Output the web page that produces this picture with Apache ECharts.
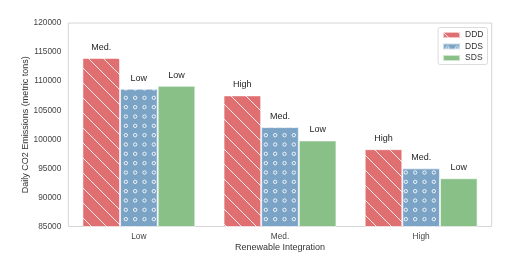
<!DOCTYPE html>
<html><head><meta charset="utf-8">
<script src="https://cdn.jsdelivr.net/npm/echarts@6/dist/echarts.min.js"></script>
<style>html,body{margin:0;padding:0;background:#fff}#c{width:521px;height:257px}</style>
</head><body><div id="c"></div>
<script>
const categories = ['Low', 'Med.', 'High'];
const seriesNames = ['DDD', 'DDS', 'SDS'];
const dddValues = [114000, 107550, 98300];
const ddsValues = [108700, 102100, 95000];
const sdsValues = [109200, 99800, 93300];
const dddLabels = ['Med.', 'High', 'High'];
const ddsLabels = ['Low', 'Med.', 'Med.'];
const sdsLabels = ['Low', 'Low', 'Low'];
const yTicks = [85000, 90000, 95000, 100000, 105000, 110000, 115000, 120000];

const RED = '#df6f71', BLUE = '#7ba3c6', GREEN = '#88c088';
const FONT = 'Liberation Sans, Arial, sans-serif';

function hatchLines(bg) {
  const s = 15, c = document.createElement('canvas');
  c.width = s; c.height = s;
  const g = c.getContext('2d');
  g.fillStyle = bg; g.fillRect(0, 0, s, s);
  g.strokeStyle = 'rgba(255,255,255,0.85)'; g.lineWidth = 1;
  for (const k of [-s, 0, s]) { g.beginPath(); g.moveTo(k, 0); g.lineTo(k + s, s); g.stroke(); }
  return { image: c, repeat: 'repeat' };
}
function hatchCircles(bg) {
  const s = 9.33, c = document.createElement('canvas');
  c.width = 28; c.height = 28;
  const g = c.getContext('2d');
  g.fillStyle = bg; g.fillRect(0, 0, 28, 28);
  g.strokeStyle = 'rgba(255,255,255,0.85)'; g.lineWidth = 1;
  for (let i = 0; i < 3; i++) for (let j = 0; j < 3; j++) {
    g.beginPath(); g.arc(4.5 + i * s, 4.5 + j * s, 1.7, 0, Math.PI * 2); g.stroke();
  }
  return { image: c, repeat: 'repeat' };
}

function mkSeries(name, vals, labels, color) {
  return {
    name, type: 'bar', barGap: 0, barCategoryGap: '20%',
    data: vals.map((v, i) => ({ value: v, label: { formatter: labels[i] } })),
    itemStyle: { color, borderColor: 'rgba(255,255,255,0.6)', borderWidth: 1 },
    label: { show: true, position: 'top', distance: 6, fontSize: 9, color: '#262626', fontFamily: FONT },
    emphasis: { disabled: true }
  };
}

const chart = echarts.init(document.getElementById('c'), null, { renderer: 'canvas' });
chart.setOption({
  animation: false,
  backgroundColor: '#fff',
  grid: { left: 68.3, right: 29.3, top: 23, bottom: 28, show: true, borderColor: '#d6d6d6', borderWidth: 1, containLabel: false },
  legend: {
    data: seriesNames, orient: 'vertical', right: 33.5, top: 27.5,
    itemWidth: 17, itemHeight: 6, itemGap: 2.5,
    borderColor: '#dcdcdc', borderWidth: 1, borderRadius: 2, padding: [3, 4, 2, 4],
    textStyle: { fontSize: 8.5, color: '#333', fontFamily: FONT, padding: [0, 0, 0, 0] },
    icon: 'rect', align: 'left'
  },
  xAxis: {
    type: 'category', data: categories,
    name: 'Renewable Integration', nameLocation: 'middle', nameGap: 16.5, nameMoveOverlap: false,
    nameTextStyle: { fontSize: 9, color: '#333', fontFamily: FONT },
    axisLine: { show: false }, axisTick: { show: false },
    axisLabel: { fontSize: 8.3, color: '#444', margin: 6, fontFamily: FONT },
    splitLine: { show: false }
  },
  yAxis: {
    type: 'value', min: yTicks[0], max: yTicks[yTicks.length - 1], interval: yTicks[1] - yTicks[0],
    name: 'Daily CO2 Emissions (metric tons)', nameLocation: 'middle', nameGap: 38.5, nameMoveOverlap: false,
    nameTextStyle: { fontSize: 9, color: '#333', fontFamily: FONT },
    axisLine: { show: false }, axisTick: { show: false },
    axisLabel: { fontSize: 8.3, color: '#444', margin: 7, fontFamily: FONT, formatter: v => String(v) },
    splitLine: { show: false }
  },
  series: [
    mkSeries(seriesNames[0], dddValues, dddLabels, hatchLines(RED)),
    mkSeries(seriesNames[1], ddsValues, ddsLabels, hatchCircles(BLUE)),
    mkSeries(seriesNames[2], sdsValues, sdsLabels, GREEN)
  ]
});
</script></body></html>
